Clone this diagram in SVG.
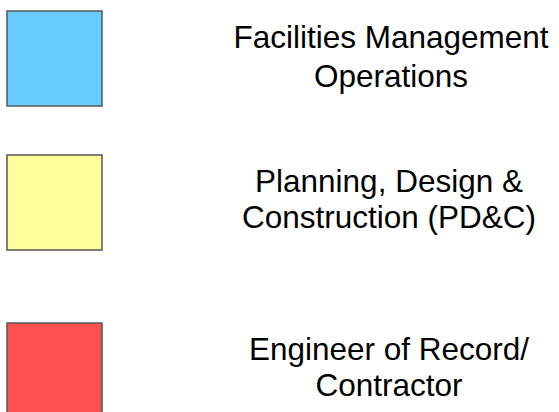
<svg xmlns="http://www.w3.org/2000/svg" width="559" height="412" viewBox="0 0 559 412">
<style>
.sw{stroke:#555555;stroke-width:1.5}
.lbl{font-family:"Liberation Sans",Arial,sans-serif;font-size:31.5px;fill:#000;text-anchor:middle}
</style>
<rect width="559" height="412" fill="#ffffff"/>
<g id="legend-fmo">
<rect class="sw" x="7" y="11" width="95" height="95" fill="#66ccff"/>
<text class="lbl" x="391" y="48">Facilities Management</text>
<text class="lbl" x="391" y="87">Operations</text>
</g>
<g id="legend-pdc">
<rect class="sw" x="7" y="155" width="95" height="95" fill="#ffff99"/>
<text class="lbl" x="389" y="192">Planning, Design &amp;</text>
<text class="lbl" x="389" y="228">Construction (PD&amp;C)</text>
</g>
<g id="legend-eor">
<rect class="sw" x="7" y="323" width="95" height="96" fill="#ff5050"/>
<text class="lbl" x="389" y="360">Engineer of Record/</text>
<text class="lbl" x="389" y="396">Contractor</text>
</g>
<g id="connectors"></g>
</svg>
